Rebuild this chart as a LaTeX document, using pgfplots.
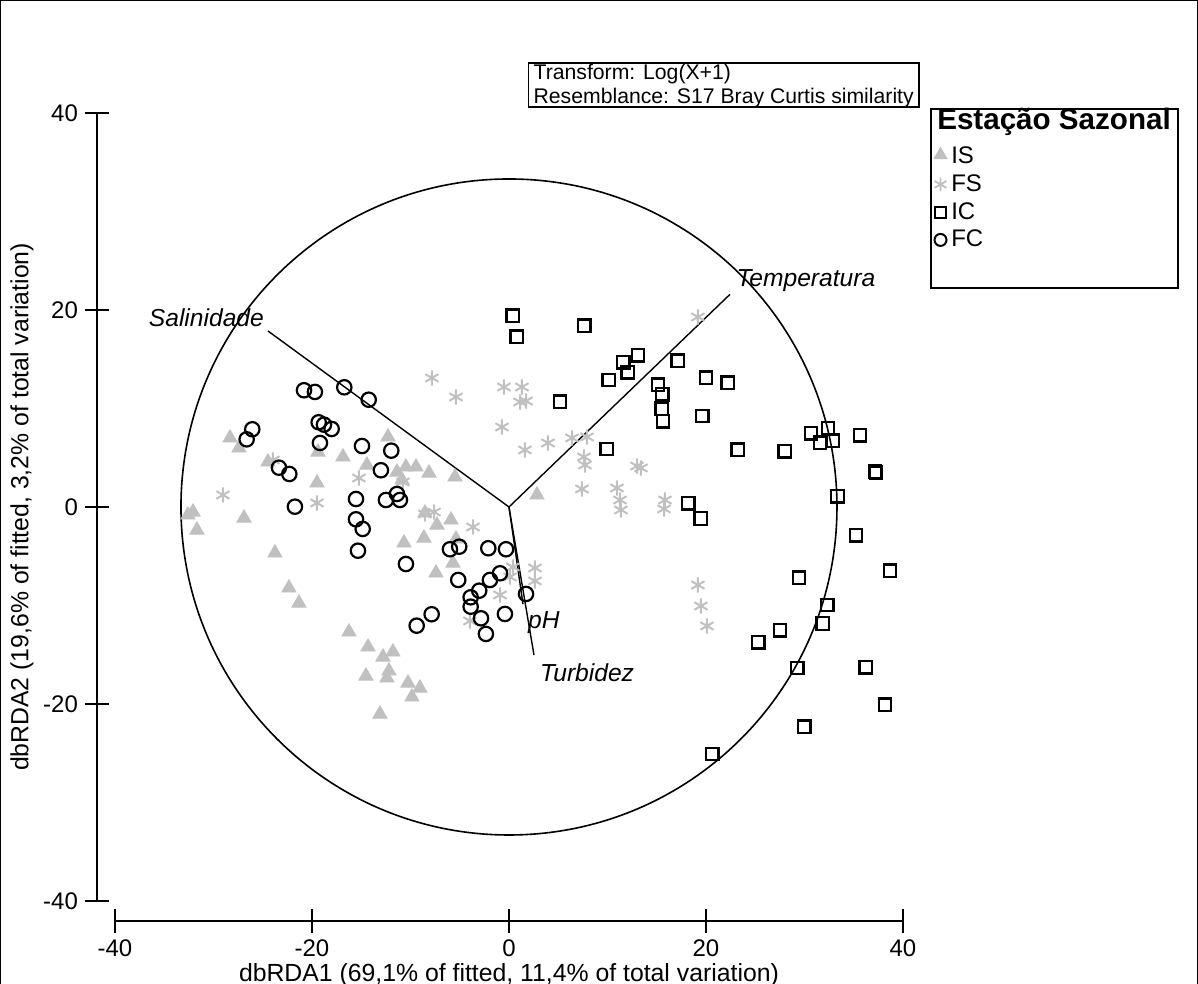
\documentclass[border=0pt]{standalone}
\usepackage{fontspec}
\setmainfont{Liberation Sans}
\usepackage{pgfplots}
\pgfplotsset{compat=1.18}
\definecolor{mkgray}{RGB}{192,192,192}
\begin{document}
\begin{tikzpicture}
\begin{axis}[
  width=394pt, height=394pt, scale only axis,
  xmin=-40, xmax=40, ymin=-40, ymax=40,
  axis x line=bottom, axis y line=left,
  axis line style={-, line width=0.75pt},
  axis x line shift=10pt, axis y line shift=9pt,
  xtick={-40,-20,0,20,40}, ytick={-40,-20,0,20,40},
  tick align=center, major tick length=12pt,
  tick style={line width=0.75pt, black},
  /pgf/number format/assume math mode=true,
  ticklabel style={font=\fontsize{12}{14.4}\selectfont},
  label style={font=\fontsize{12.4}{14.8}\selectfont},
  xlabel={dbRDA1 (69,1\% of fitted, 11,4\% of total variation)},
  ylabel={dbRDA2 (19,6\% of fitted, 3,2\% of total variation)},
  xlabel style={at={(rel axis cs:0.5,-0.0939)}, anchor=center},
  ylabel style={at={(rel axis cs:-0.118,0.5)}, anchor=center},
  clip=false,
  legend cell align=left,
  legend style={at={(rel axis cs:1.0343,1.0063)}, anchor=north west,
    draw=black, line width=0.75pt, font=\fontsize{12}{14.4}\selectfont,
    row sep=0pt, inner sep=1.5pt},
  legend image code/.code={\draw[#1] plot coordinates {(3pt,0pt)};},
]
\coordinate (frameSW) at (rel axis cs:-0.1459,-0.1053);
\coordinate (frameNE) at (rel axis cs:1.3744,1.1434);

\draw[line width=0.8pt] (axis cs:0,0) circle [radius=33.3];
\addplot[black, line width=0.7pt, forget plot] coordinates {(0,0) (-24.47,17.87)};
\addplot[black, line width=0.7pt, forget plot] coordinates {(0,0) (22.44,21.59)};
\addplot[black, line width=0.7pt, forget plot] coordinates {(0,0) (2.54,-15.03)};
\addplot[black, line width=0.7pt, forget plot] coordinates {(0,0) (1.42,-9.85)};
\node[anchor=east, font=\fontsize{12.3}{14.4}\selectfont\itshape] at (axis cs:-24.17,19.19) {Salinidade};
\node[anchor=west, font=\fontsize{12.3}{14.4}\selectfont\itshape] at (axis cs:22.4,22.94) {Temperatura};
\node[anchor=west, font=\fontsize{12.3}{14.4}\selectfont\itshape] at (axis cs:1.23,-11.75) {pH};
\node[anchor=west, font=\fontsize{12.3}{14.4}\selectfont\itshape] at (axis cs:2.45,-16.85) {Turbidez};

\node[draw=black, line width=0.75pt, anchor=north west, align=left, inner xsep=2.5pt, inner ysep=0.5pt,
  font=\fontsize{10.6}{12}\selectfont] at (rel axis cs:0.524,1.0647)
  {Transform: Log(X+1)\\\raisebox{0pt}[\height][1.5pt]{Resemblance: S17 Bray Curtis similarity}};

\addlegendimage{empty legend}
\addlegendentry{\hspace*{-7pt}\raisebox{3pt}[10pt][\depth]{\fontsize{14.8}{18}\selectfont\bfseries Estação Sazonal}}

% IS
\addplot[only marks, mark=triangle*, mark size=4.2pt, color=mkgray, mark options={fill=mkgray, draw=mkgray, line width=0.3pt},
  legend image code/.code={\draw[mkgray, mark=triangle*, mark size=3.9pt, mark options={fill=mkgray, draw=mkgray, line width=0.3pt}] plot coordinates {(3pt,0.8pt)};}] coordinates {
(-28.32,7.01) (-27.41,5.99) (-32.08,-0.51) (-32.59,-0.81) (-31.68,-2.34) (-26.90,-1.12)
(-23.76,-4.67) (-24.47,4.57) (-19.49,2.44) (-19.39,5.58) (-22.34,-8.22) (-21.32,-9.75)
(-16.24,-12.69) (-14.31,-14.21) (-12.79,-15.23) (-11.78,-14.72) (-12.18,-16.65) (-12.39,-17.36)
(-14.52,-17.16) (-10.25,-17.87) (-9.04,-18.38) (-9.85,-19.29) (-13.10,-21.02) (-12.28,7.11)
(-16.85,5.08) (-14.42,4.26) (-11.37,3.55) (-10.46,4.06) (-9.44,4.06) (-8.12,3.45)
(-5.48,3.05) (-10.86,2.74) (-8.53,-0.61) (-7.31,-1.83) (-5.89,-1.32) (-8.63,-3.15)
(-10.66,-3.65) (-5.38,-3.25) (-5.69,-5.69) (-7.41,-6.70) (2.84,1.22)
};
\addlegendentry{IS}
% FS
\addplot[only marks, mark=asterisk, mark size=3.8pt, color=mkgray, mark options={line width=1pt},
  legend image code/.code={\draw[mkgray, mark=asterisk, mark size=3.4pt, mark options={line width=0.9pt}] plot coordinates {(3pt,0pt)};}] coordinates {
(-29.04,1.22) (-23.96,4.77) (-19.49,0.41) (-15.23,2.94) (-10.76,2.54) (-8.53,-0.71)
(-7.61,-0.51) (-3.65,-2.03) (-7.82,13.10) (-5.38,11.17) (-0.51,12.18) (1.32,12.18)
(1.12,10.66) (1.73,10.76) (-0.71,8.12) (1.62,5.79) (3.96,6.50) (6.40,7.01)
(7.92,7.11) (7.61,5.08) (7.72,4.26) (13.00,4.16) (13.40,3.96) (7.41,1.83) (10.96,1.93)
(11.27,0.71) (11.37,-0.30) (15.84,0.71) (15.74,-0.20) (19.19,19.29) (19.19,-7.92)
(19.49,-10.05) (20.10,-12.08) (0.41,-6.09) (2.64,-6.19) (2.64,-7.51) (0.10,-7.11)
(-0.91,-8.93) (-3.96,-11.57)
};
\addlegendentry{FS}
% IC
\addplot[only marks, mark=square, mark size=3.1pt, color=black, mark options={line width=1.1pt},
  legend image code/.code={\draw[black, mark=square, mark size=2.8pt, mark options={line width=1pt}] plot coordinates {(3pt,0pt)};}] coordinates {
(0.38,19.42) (0.78,17.29) (7.64,18.41) (11.60,14.69) (13.10,15.40) (12.05,13.68)
(10.12,12.89) (5.18,10.69) (9.92,5.89) (17.13,14.85) (15.13,12.42) (15.56,11.44)
(15.50,9.98) (15.63,8.70) (20.00,13.13) (22.20,12.62) (19.62,9.24) (23.22,5.82)
(27.99,5.65) (30.66,7.48) (32.39,8.02) (31.57,6.53) (32.86,6.73) (35.63,7.28)
(37.16,3.58) (37.26,3.48) (33.35,1.09) (18.20,0.38) (19.46,-1.17) (35.23,-2.87)
(38.68,-6.47) (29.44,-7.18) (32.31,-9.95) (31.85,-11.83) (27.51,-12.52) (25.31,-13.73)
(29.27,-16.35) (36.21,-16.27) (38.17,-20.07) (29.98,-22.30) (20.64,-25.08)
};
\addlegendentry{IC}
% FC
\addplot[only marks, mark=o, mark size=3.6pt, color=black, mark options={line width=1.1pt},
  legend image code/.code={\draw[black, mark=o, mark size=3pt, mark options={line width=1pt}] plot coordinates {(3pt,0pt)};}] coordinates {
(-20.81,11.85) (-19.70,11.68) (-16.72,12.15) (-14.24,10.89) (-26.06,7.89) (-26.63,6.87)
(-19.32,8.60) (-18.78,8.36) (-18.00,7.92) (-19.19,6.50) (-14.92,6.19) (-11.95,5.72)
(-13.00,3.73) (-23.35,3.99) (-22.30,3.35) (-21.73,0.03) (-15.53,0.81) (-15.53,-1.25)
(-14.85,-2.23) (-15.33,-4.44) (-12.49,0.71) (-11.37,1.32) (-11.07,0.71) (-10.46,-5.79)
(-5.99,-4.29) (-5.05,-4.03) (-2.10,-4.19) (-0.30,-4.29) (-5.15,-7.41) (-0.91,-6.73)
(-1.93,-7.41) (-3.02,-8.50) (-3.89,-9.17) (-3.89,-10.12) (-2.84,-11.30) (-2.34,-12.89)
(-0.41,-10.86) (1.73,-8.83) (-7.85,-10.89) (-9.37,-12.05)
};
\addlegendentry{FC}
\addlegendimage{empty legend}
\addlegendentry{\rule{0pt}{10pt}}
\end{axis}
\pgfresetboundingbox
\useasboundingbox (frameSW) rectangle (frameNE);
\draw[line width=1.5pt] (frameSW) |- (frameNE) -- (frameNE |- frameSW);
\end{tikzpicture}
\end{document}
